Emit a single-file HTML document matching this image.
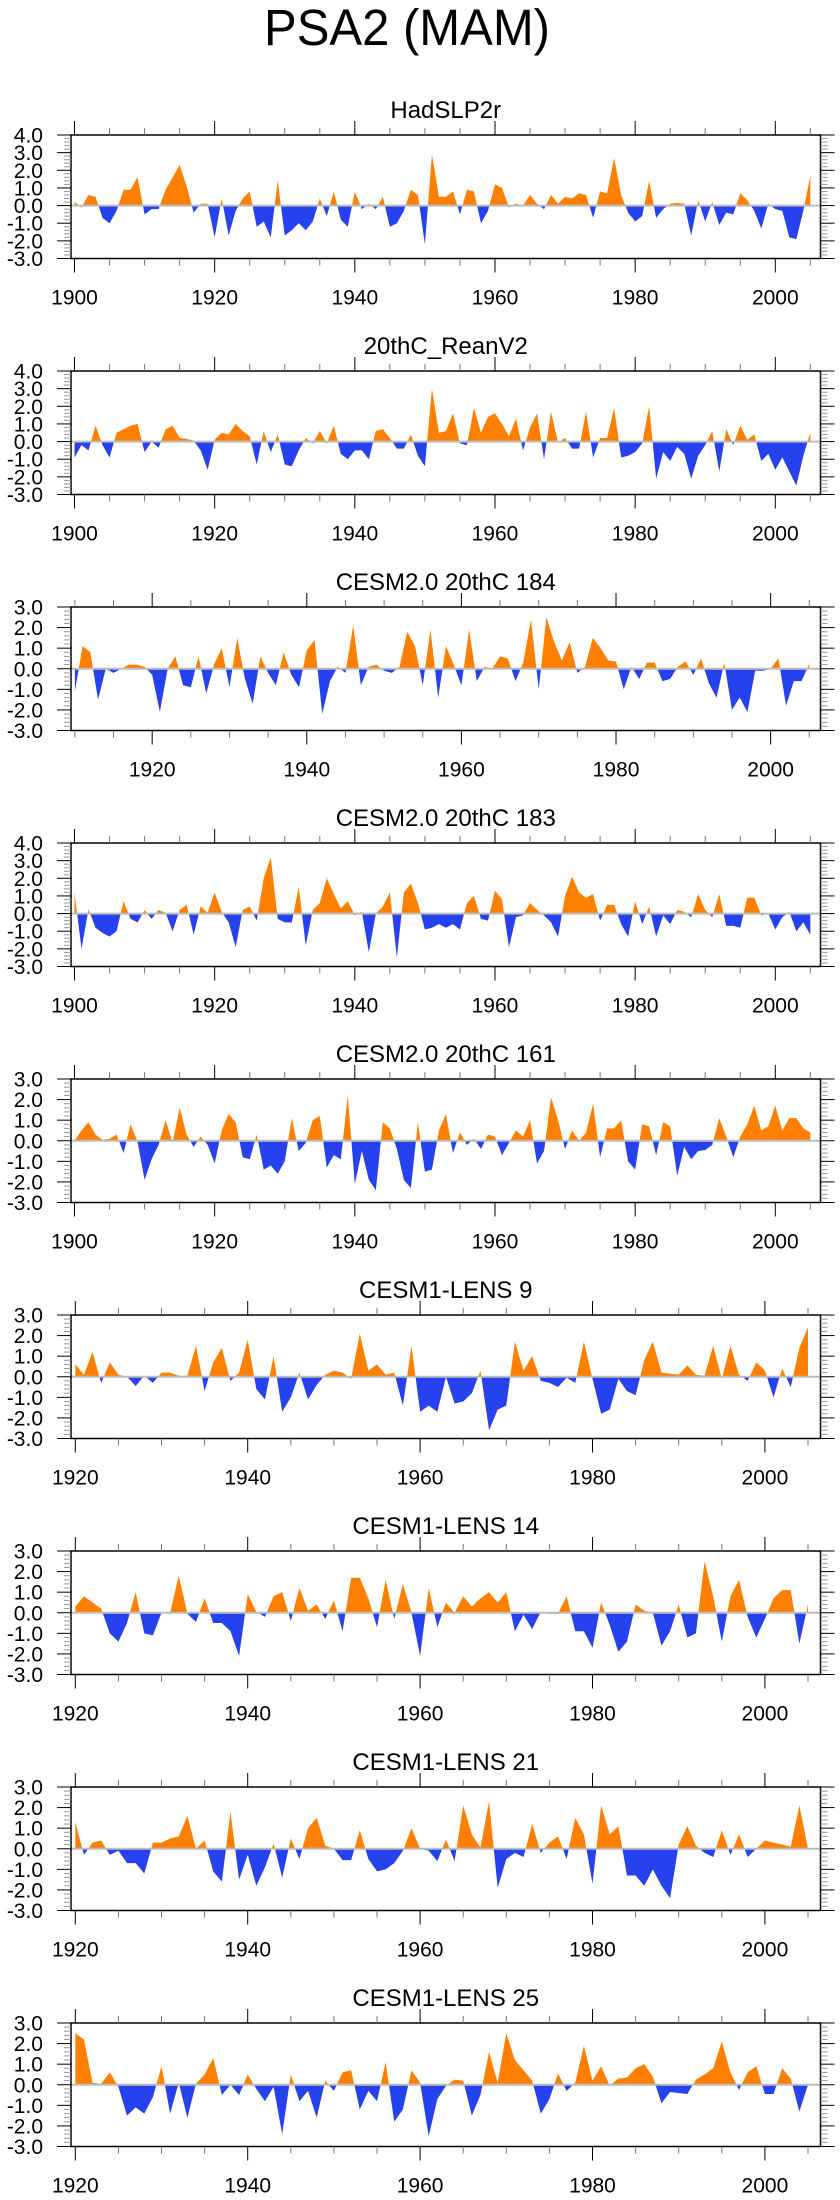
<!DOCTYPE html>
<html><head><meta charset="utf-8">
<style>
html,body{margin:0;padding:0;background:#fff;}
svg{display:block;font-family:"Liberation Sans",Arial,sans-serif;}
</style></head>
<body>
<svg id="chart" width="840" height="2200" viewBox="0 0 840 2200">
<text x="407" y="45" font-size="51" text-anchor="middle" textLength="286" lengthAdjust="spacingAndGlyphs">PSA2 (MAM)</text>
</svg>
<script>
const panelTitles = ["HadSLP2r","20thC_ReanV2","CESM2.0 20thC 184","CESM2.0 20thC 183","CESM2.0 20thC 161","CESM1-LENS 9","CESM1-LENS 14","CESM1-LENS 21","CESM1-LENS 25"];
const startYears = [1900,1900,1910,1900,1900,1920,1920,1920,1920];
const yMaxes = [4,4,3,4,3,3,3,3,3];
const yMins = [-3,-3,-3,-3,-3,-3,-3,-3,-3];
const endYear = 2005;

const hadslp2r = [0.2,-0.1,0.6,0.5,-0.7,-1.0,-0.3,0.9,0.9,1.6,-0.5,-0.2,-0.2,0.9,1.6,2.3,1.1,-0.4,0.1,0.1,-1.8,0.4,-1.7,-0.3,0.4,0.8,-1.2,-0.9,-1.8,1.4,-1.7,-1.4,-1.0,-1.4,-0.9,0.4,-0.6,0.8,-0.8,-1.2,0.8,-0.2,0.1,-0.2,0.5,-1.2,-1.0,-0.3,0.9,0.6,-2.2,2.9,0.5,0.5,0.8,-0.5,0.9,0.8,-1.0,-0.3,1.2,1.0,-0.1,0.1,0.0,0.6,0.1,-0.2,0.6,0.1,0.5,0.4,0.7,0.6,-0.7,0.8,0.7,2.7,0.6,-0.4,-0.9,-0.6,1.4,-0.7,-0.2,0.1,0.15,0.1,-1.7,0.3,-0.9,0.2,-1.1,-0.4,-0.5,0.7,0.3,-0.3,-1.3,0.1,-0.2,-0.3,-1.8,-1.9,-0.3,1.7];
const reanV2 = [-0.9,-0.2,-0.5,0.9,-0.2,-0.9,0.5,0.7,0.9,1.0,-0.6,0.0,-0.35,0.7,0.9,0.2,0.15,0.05,-0.5,-1.6,0.1,0.5,0.4,1.0,0.6,0.3,-1.3,0.6,-0.6,0.4,-1.3,-1.4,-0.5,0.2,-0.1,0.6,-0.1,0.9,-0.7,-1.0,-0.5,-0.5,-1.0,0.6,0.7,0.2,-0.4,-0.4,0.4,-0.8,-1.4,3.0,0.5,0.6,1.6,-0.1,-0.2,1.9,0.5,1.4,1.6,1.0,0.3,1.3,-0.5,0.8,1.6,-1.0,1.7,-0.05,0.2,-0.4,-0.4,1.7,-0.9,0.2,0.2,1.9,-0.9,-0.8,-0.6,-0.1,2.0,-2.1,-0.6,-1.1,-0.3,-0.7,-2.1,-0.8,-0.2,0.6,-1.7,0.7,-0.2,0.9,0.1,0.4,-1.1,-0.7,-1.6,-0.9,-1.7,-2.5,-0.8,0.5];
const cesm2_184 = [-1.1,1.1,0.8,-1.5,0.0,-0.2,0.0,0.2,0.2,0.1,-0.3,-2.1,0.0,0.6,-0.8,-0.9,0.6,-1.2,0.2,1.0,-0.9,1.5,-0.5,-1.7,0.6,-0.2,-0.8,0.8,-0.3,-0.9,0.9,1.4,-2.2,-0.6,0.1,-0.2,2.1,-0.8,0.1,0.2,-0.1,-0.2,0.1,1.8,1.1,-0.8,1.9,-1.4,1.1,0.2,-0.8,1.9,-0.6,0.1,0.0,0.6,0.5,-0.6,0.3,2.4,-1.0,2.5,1.3,0.4,1.3,-0.2,0.1,1.5,1.0,0.4,0.35,-1.0,0.1,-0.5,0.3,0.3,-0.6,-0.5,0.1,0.35,-0.3,0.5,-0.7,-1.4,0.3,-2.0,-1.4,-2.1,-0.1,-0.1,0.0,0.5,-1.8,-0.6,-0.6,0.25];
const cesm2_183 = [1.2,-2.0,0.25,-0.8,-1.1,-1.3,-1.0,0.7,-0.3,-0.5,0.2,-0.3,0.2,0.05,-1.0,0.2,0.5,-1.2,0.4,0.05,1.2,0.1,-0.5,-1.9,0.2,0.4,-0.4,2.0,3.2,-0.3,-0.5,-0.5,1.5,-1.8,0.2,0.6,2.0,1.1,0.3,0.7,-0.1,0.1,-2.2,0.0,0.4,1.2,-2.5,1.2,1.7,0.6,-0.9,-0.8,-0.6,-0.8,-0.6,-0.9,0.6,1.0,-0.3,-0.4,1.3,0.8,-1.9,-0.2,-0.1,0.6,0.2,-0.1,-0.5,-1.3,1.0,2.1,1.2,0.9,1.1,-0.4,0.5,0.5,-0.6,-1.3,0.7,-0.6,0.4,-1.3,-0.1,-0.6,0.2,0.1,-0.2,1.1,0.2,-0.2,1.1,-0.7,-0.7,-0.8,0.9,0.9,-0.1,0.0,-0.9,-0.2,0.1,-1.0,-0.5,-1.2];
const cesm2_161 = [0.0,0.5,0.9,0.3,0.05,0.1,0.3,-0.6,0.8,-0.05,-1.9,-0.9,-0.2,1.0,-0.1,1.6,0.3,-0.3,0.2,-0.2,-1.1,0.5,1.3,0.9,-0.8,-0.9,0.3,-1.4,-1.2,-1.6,-1.0,1.1,-0.5,-0.1,1.0,1.2,-1.3,-0.7,-0.9,2.2,-2.1,-0.5,-1.9,-2.4,0.9,0.6,-0.4,-1.9,-2.3,0.9,-1.5,-1.4,0.5,1.3,-0.6,0.4,-0.2,0.1,-0.4,0.3,0.2,-0.7,-0.1,0.5,0.2,1.0,-1.1,-0.5,2.1,1.0,-0.4,0.5,0.0,0.4,1.8,-0.8,0.6,0.6,1.0,-1.0,-1.4,0.8,0.7,-0.7,0.9,0.7,-1.7,-0.3,-0.9,-0.5,-0.45,-0.2,1.1,0.2,-0.8,0.2,0.8,1.7,0.5,0.7,1.7,0.5,1.1,1.1,0.6,0.4];
const lens9 = [0.6,0.1,1.2,-0.3,0.7,0.1,0.0,-0.45,0.05,-0.3,0.2,0.2,0.05,0.05,1.5,-0.7,0.7,1.4,-0.2,0.2,1.8,-0.6,-1.1,1.0,-1.7,-1.0,0.2,-1.1,-0.4,0.1,0.3,0.2,-0.1,2.1,0.3,0.6,0.1,0.2,-1.4,1.5,-1.7,-1.4,-1.7,0.0,-1.3,-1.2,-0.8,0.3,-2.6,-1.6,-1.4,1.7,0.3,1.0,-0.2,-0.3,-0.5,-0.05,-0.3,1.7,-0.1,-1.8,-1.6,-0.1,-0.7,-0.9,0.8,1.7,0.2,0.15,0.1,0.55,0.1,0.05,1.5,-0.1,1.5,0.1,-0.2,0.7,0.3,-1.0,0.4,-0.5,1.4,2.4];
const lens14 = [0.3,0.8,0.5,0.2,-1.0,-1.4,-0.5,1.0,-1.0,-1.1,0.0,0.0,1.8,-0.05,-0.45,0.7,-0.5,-0.5,-0.9,-2.1,0.9,0.05,-0.2,0.8,1.0,-0.4,1.2,0.1,0.4,-0.3,0.6,-0.9,1.7,1.7,0.7,-0.7,1.6,-0.3,1.4,0.0,-2.1,1.2,-0.7,0.5,0.0,0.8,0.3,0.7,1.0,0.5,1.0,-0.9,-0.1,-0.8,0.05,-0.05,-0.05,0.8,-0.9,-0.9,-1.7,0.5,-0.6,-1.9,-1.4,0.4,0.1,0.0,-1.6,-0.9,0.4,-1.2,-1.0,2.5,0.8,-1.4,0.8,1.6,-0.2,-1.2,-0.3,0.7,1.1,1.1,-1.5,0.4];
const lens21 = [1.3,-0.3,0.3,0.4,-0.3,-0.1,-0.7,-0.7,-1.2,0.3,0.3,0.5,0.6,1.6,0.0,0.4,-1.1,-1.6,1.8,-1.5,-0.3,-1.8,-0.9,0.25,-1.4,0.5,-0.5,1.0,1.5,0.15,0.0,-0.55,-0.55,0.9,-0.5,-1.1,-1.0,-0.7,-0.1,1.0,0.0,-0.1,-0.6,0.45,-0.6,2.1,0.7,0.05,2.3,-1.9,-0.5,-0.2,-0.4,1.2,-0.2,0.3,0.6,-0.5,1.5,0.7,-1.7,2.1,0.7,1.1,-1.3,-1.3,-1.8,-1.0,-1.8,-2.4,0.2,1.1,0.15,-0.2,-0.4,0.9,-0.3,0.7,-0.4,0.0,0.4,0.3,0.2,0.1,2.1,0.0];
const lens25 = [2.5,2.2,0.1,0.05,0.6,-0.1,-1.5,-1.1,-1.4,-0.6,0.9,-1.4,0.1,-1.6,0.05,0.5,1.3,-0.5,0.0,-0.5,0.5,-0.2,-0.8,-0.1,-2.4,0.5,-0.8,-0.3,-1.6,0.2,-0.3,0.6,0.7,-1.2,-0.3,-0.8,1.1,-1.8,-1.2,0.7,0.1,-2.5,-0.7,-0.05,0.25,0.2,-1.5,-0.5,1.6,0.1,2.5,1.2,0.7,0.2,-1.4,-0.7,0.55,-0.3,0.1,1.9,0.2,0.9,-0.05,0.3,0.35,0.8,1.0,0.4,-0.9,-0.35,-0.4,-0.45,0.25,0.5,0.8,2.1,0.6,-0.25,0.6,0.9,-0.45,-0.45,0.8,0.3,-1.3,0.0];
const seriesList = [hadslp2r,reanV2,cesm2_184,cesm2_183,cesm2_161,lens9,lens14,lens21,lens25];

const NS = "http://www.w3.org/2000/svg";
const svg = document.getElementById("chart");
const BOX_L = 71, BOX_R = 820.5, BOX_H = 123.5, TOP0 = 135, PITCH = 236;
const ORANGE = "#FF8000", BLUE = "#2641EE";
function mk(tag, attrs, parent){const e=document.createElementNS(NS,tag);for(const k in attrs)e.setAttribute(k,attrs[k]);(parent||svg).appendChild(e);return e;}

seriesList.forEach(function(vals, p){
  const top = TOP0 + p*PITCH, bot = top + BOX_H;
  const y0 = startYears[p];
  const xMin = y0 - 0.5, xMax = endYear + 1.45;
  const yMax = yMaxes[p], yMin = yMins[p];
  const xs = function(yr){return BOX_L + (yr - xMin)/(xMax - xMin)*(BOX_R - BOX_L);};
  const ys = function(v){return top + (yMax - v)/(yMax - yMin)*BOX_H;};
  const g = mk("g", {});
  
  

  const t = mk("text", {x: (BOX_L+BOX_R)/2, y: top-17, "font-size": 24, "text-anchor":"middle"}, g);
  
  
  t.textContent = panelTitles[p];

  const cid = "c"+p;
  const defs = mk("defs", {}, g);
  const cu = mk("clipPath", {id: cid+"u"}, defs);
  mk("rect", {x: BOX_L, y: top, width: BOX_R-BOX_L, height: ys(0)-top}, cu);
  const cl = mk("clipPath", {id: cid+"l"}, defs);
  mk("rect", {x: BOX_L, y: ys(0), width: BOX_R-BOX_L, height: bot-ys(0)}, cl);

  let d = "M" + xs(y0).toFixed(2) + "," + ys(0).toFixed(2);
  vals.forEach(function(v,i){ d += " L" + xs(y0+i).toFixed(2) + "," + ys(v).toFixed(2); });
  d += " L" + xs(y0+vals.length-1).toFixed(2) + "," + ys(0).toFixed(2) + " Z";
  const up = mk("path", {d: d, fill: ORANGE, "clip-path": "url(#"+cid+"u)"}, g);
  
  
  const dn = mk("path", {d: d, fill: BLUE, "clip-path": "url(#"+cid+"l)"}, g);
  
  
  const zl = mk("line", {x1: BOX_L, x2: BOX_R, y1: ys(0), y2: ys(0), stroke: "#bdbdbd", "stroke-width": 2}, g);
  
  

  const box = mk("rect", {x: BOX_L, y: top, width: BOX_R-BOX_L, height: BOX_H, fill: "none", stroke: "#000", "stroke-width": 1.5}, g);
  
  

  for (let k = Math.round(yMin*5); k <= Math.round(yMax*5); k++) {
    const v = k/5, yy = ys(v), major = (k % 5 === 0);
    const len = major ? 14 : 7;
    const col = major ? "#000" : "#999";
    mk("line", {x1: BOX_L-len, x2: BOX_L, y1: yy, y2: yy, stroke: col, "stroke-width": 1}, g);
    mk("line", {x1: BOX_R, x2: BOX_R+len, y1: yy, y2: yy, stroke: col, "stroke-width": 1}, g);
    if (major) {
      const lab = mk("text", {x: 43, y: yy+7.5, "font-size": 21, "text-anchor": "end"}, g);
      
      
      lab.textContent = v.toFixed(1);
    }
  }
  for (let yr = Math.ceil(xMin/5)*5; yr <= xMax; yr += 5) {
    const xx = xs(yr), major = (yr % 20 === 0);
    const len = major ? 14 : 7;
    const col = major ? "#000" : "#777";
    mk("line", {x1: xx, x2: xx, y1: top-len, y2: top, stroke: col, "stroke-width": 1}, g);
    mk("line", {x1: xx, x2: xx, y1: bot, y2: bot+len, stroke: col, "stroke-width": 1}, g);
    if (major) {
      const lab = mk("text", {x: xx, y: bot+46, "font-size": 21, "text-anchor": "middle"}, g);
      
      
      lab.textContent = String(yr);
    }
  }
});
</script>
</body></html>
